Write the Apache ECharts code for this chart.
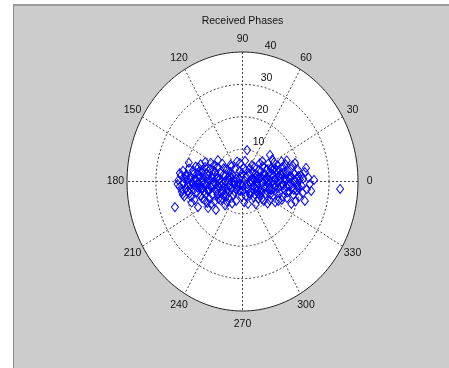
<!DOCTYPE html>
<html><head><meta charset="utf-8">
<script src="https://cdn.jsdelivr.net/npm/echarts@6/dist/echarts.min.js"></script>
<style>
html,body{margin:0;padding:0;background:#fff;}
#wrap{position:relative;width:449px;height:368px;overflow:hidden;background:#fff;}
#frame{position:absolute;left:13px;top:4px;right:0;bottom:0;background:#cccccc;border-left:1px solid #8c8c8c;border-top:2px solid #9c9c9c;}
#c{position:absolute;left:0;top:0;width:449px;height:368px;}
</style>
</head><body><div id="wrap"><div id="frame"></div><div id="c"></div></div>
<script>
const chartTitle = 'Received Phases';
const angleTicks = [0, 30, 60, 90, 120, 150, 180, 210, 240, 270, 300, 330];
const ringTicks = [10, 20, 30, 40];
// received symbols: in-phase (real) and quadrature (imag) components
const inPhase = [
-23.4,-22.2,-21.8,-21.3,-21,-20.6,-20.4,-20.2,-21.7,-20.9,-22.5,-20.1,
-18.6,-19.6,-18.9,-19.6,-18.3,-16.6,-19.2,-18,-17.5,-17.2,-16.8,-17.8,-16.3,-18.5,-17,-16.5,-19,-17.6,-16.2,-18.2,
-15.4,-13,-14.8,-15.5,-14.2,-13.5,-15,-12.8,-14,-12.4,-13.6,-15.8,-12.9,-14.5,-12.2,-13.2,-15.2,-14.6,-12.6,-13.9,-12.1,-15.9,-14.3,-13.1,-12.5,
-9.6,-8.5,-11.9,-9.2,-11.5,-10.8,-10.2,-9.3,-8.6,-11.2,-10.5,-9.1,-8.3,-11.7,-10,-8.8,-11,-9.7,-10.6,-8.2,-11.4,-9.4,-10.3,-8.7,-11.8,-9.9,-8.1,-10.9,
-5.4,-7.5,-6.8,-6.1,-5.2,-7.2,-4.6,-6.5,-5.7,-4.3,-7.8,-6.3,-5,-4.8,-7,-6,-4.4,-7.6,-5.5,-6.9,-4.1,-5.9,-7.3,-4.7,
-0.9,-3.5,-2.8,-2,-1.2,-3.2,-0.5,-2.5,-1.7,-3.8,-0.3,-2.2,-3.9,-1,-1.5,-3,-0.7,-2.6,-3.6,-0.2,
1.6,0.8,1.5,2.2,3,0.4,3.6,2.7,1.1,3.3,0.6,2,3.8,1.3,2.5,0.2,3.5,1.9,2.9,0.9,3.9,1.7,
6.1,4.4,5.2,6.5,7.3,4.8,5.7,7,4.2,6.8,5.5,7.6,4.6,6.2,7.9,5.9,4.1,6.9,5.1,7.4,6.4,4.9,7.7,5.4,6.7,4.3,
9.5,8.3,9,10.2,11,8.6,9.8,11.5,10.6,8.9,11.8,9.4,10.9,8.2,10.4,11.3,9.2,8.7,10,11.6,8.4,9.6,10.7,11.9,9.1,10.3,8.8,11.2,
15.4,12.5,13.3,14.2,15,12.9,13.8,15.7,14.6,12.2,13.5,15.2,12.7,14,15.9,13.1,14.8,12.4,13.9,15.5,12.1,14.4,13.6,15.3,
18.2,16.4,17.1,18,19,16.8,17.6,19.4,18.6,16.2,17.9,19.7,16.6,18.3,17.3,19.2,16.9,18.8,
21.6,21.6,24.8,20.4,21,22.3,20.8,23.2,22,20.3,23.8,22.8,
33.8,
-19.5,-18.1,-16.9,-15.6,-14.1,-13.3,-12,-11.1,-10.1,-9,-7.9,-6.6,-5.6,-4.5,-3.3,-2.1,-1.1,0.1,1.2,2.4,
3.4,4.5,5.6,6.6,7.5,8.5,9.3,10.5,11.4,12.3,13.2,14.1,15.1,16.1,17,17.8,18.9,19.9,
-17.3,-14.9,-11.6,-8.9,-6.2,-3.7,-0.6,2.6,5.3,8,10.8,13.7,16.7,-20.7,-13.8,-7.1,-1.9,4.7,11.1,19.5,-15.3,6
];
const quadrature = [
-7.9,0.4,-1.6,1.8,-3.2,3.3,-0.6,-4.6,2.6,-2.4,-0.8,0.9,
5.8,2,-1.1,-2,-3.6,-5.7,0.5,1.2,-0.3,3.4,-2.5,-4.8,0.8,4,2.2,-1.3,-3,-6.5,4.6,-0.9,
-7.9,4.5,1.4,-0.5,-2.2,0.2,3.1,-3.8,-5.2,2.3,-1.1,-3.4,6,5.3,-6.6,-0.6,2.1,-4.3,1.1,3.6,-2.7,0.3,-0.1,-5.8,4,
3,6.6,-8.2,-8.8,0.4,-1.9,2.2,-0.9,1.3,3.9,-4.1,-3,-5.4,-2.9,0,4.4,5.8,-6.2,1.1,-1.7,-5.3,2.9,-0.8,-3.9,1.9,5,0.6,-7,
-6.3,2.6,-0.7,1.8,-2.4,-3.5,0.4,4.1,-4.6,3,0.9,-1.8,1.2,-5,5.5,-7.4,-1.2,-5.8,3.6,-2.6,5.2,0.1,-1.4,-3.3,
5.7,2,-1,0.8,-2.8,-4.2,1.6,3.9,-0.4,-2.2,-4.6,-6,4.6,3.2,-1.6,0.2,-0.9,-3.3,-6.8,2.5,
9.7,0.3,-1.8,2.6,-3.2,4.1,0.9,-0.5,-4.5,5.1,-6.4,-2.5,-1.5,1.5,4,-2.9,3,-6.9,0.3,6.4,-4.8,-0.8,
-4.2,2.2,-0.6,1.4,-1.8,-2.9,3.6,4.7,0.5,-0.2,-5.4,2.5,-7,-2.6,-3.9,0.9,4.4,6.3,1.8,-6,3.2,-1.5,0.3,-3.7,-5.3,-4,
8.2,1.2,-0.8,2.3,-2,-3.1,4.1,0.6,-4.3,5.5,3.5,-5.8,5.9,-1.8,0.1,-6.4,2.8,-6.8,-2.6,-1.1,3.7,-4,1.5,-3.6,0.4,6.8,-0.2,2.9,
-5.1,1.6,-1.4,2.8,0.2,-3.5,4.5,3.3,-2.6,-0.3,6.2,-1.5,3.6,-4.6,1.2,0.8,5.4,-6,-0.7,-3.4,5,0.9,-5.7,6.5,
5.7,0.8,-1.9,2.4,-0.6,3.9,-4.1,1.7,-2.8,-3.2,0.1,-4.6,-0.5,-6.2,5,3.6,-6.9,0.9,
2.9,-6,0.5,-1.2,0.9,-2.4,-3.6,-0.9,4.2,1.9,-2.9,1.2,
-2.3,
1.5,-2.2,0.5,-1.9,2.7,-3,0.8,-1.5,3.4,-2.2,-0.4,2.1,-3.1,1.7,-0.6,-2.4,0.9,-1.3,3.5,-3.6,
-0.1,1.1,-2.2,-3.3,1.9,-1.4,-2.3,3.7,0.7,-2.1,2.2,-1.2,2.4,-1.2,1.4,-2.6,-1.7,0.6,
-0.7,-1.8,-2.5,0.9,-4,1.3,-2.9,-4.2,1,0.7,-1,2,1.6,-4,-2,-5.2,6.2,-2.2,4,-1.8,4.4,5.6
];

const RMAX = 40;
const FONT = '10.5px "Liberation Sans", Arial, sans-serif';
const points = inPhase.map((x, i) => [x, quadrature[i]]);

function ringPts(api, r) {
  const pts = [];
  for (let a = 0; a <= 360; a += 2) {
    const t = a * Math.PI / 180;
    pts.push(api.coord([r * Math.cos(t), r * Math.sin(t)]));
  }
  return pts;
}

function renderGrid(params, api) {
  const children = [];
  children.push({ type: 'polygon', shape: { points: ringPts(api, RMAX) }, style: { fill: '#ffffff', stroke: null } });
  ringTicks.slice(0, -1).forEach(r => {
    children.push({ type: 'polyline', shape: { points: ringPts(api, r) },
      style: { fill: null, stroke: '#444444', lineWidth: 1, lineDash: [2, 2] } });
  });
  for (let a = 0; a < 180; a += 30) {
    const t = a * Math.PI / 180;
    const p1 = api.coord([RMAX * Math.cos(t), RMAX * Math.sin(t)]);
    const p2 = api.coord([-RMAX * Math.cos(t), -RMAX * Math.sin(t)]);
    children.push({ type: 'line', shape: { x1: p1[0], y1: p1[1], x2: p2[0], y2: p2[1] },
      style: { stroke: '#444444', lineWidth: 1, lineDash: [2, 2] } });
  }
  children.push({ type: 'polyline', shape: { points: ringPts(api, RMAX) },
    style: { fill: null, stroke: '#222222', lineWidth: 1 } });
  angleTicks.forEach(a => {
    const t = a * Math.PI / 180;
    const p = api.coord([RMAX * 1.1 * Math.cos(t), RMAX * 1.1 * Math.sin(t)]);
    children.push({ type: 'text', x: p[0], y: p[1],
      style: { text: String(a), textAlign: 'center', textVerticalAlign: 'middle', font: FONT, fill: '#111' } });
  });
  const c82 = Math.cos(82 * Math.PI / 180), s82 = Math.sin(82 * Math.PI / 180);
  ringTicks.forEach(r => {
    const rr = r + RMAX / 20 / 4;
    const p = api.coord([rr * c82, rr * s82]);
    children.push({ type: 'text', x: p[0] + 6, y: p[1],
      style: { text: String(r), textAlign: 'left', textVerticalAlign: 'bottom', font: FONT, fill: '#111' } });
  });
  return { type: 'group', children };
}

const chart = echarts.init(document.getElementById('c'), null, { renderer: 'canvas' });
chart.setOption({
  animation: false,
  backgroundColor: 'transparent',
  graphic: [{ type: 'text', x: 242.5, y: 21,
    style: { text: chartTitle, textAlign: 'center', textVerticalAlign: 'middle', font: FONT, fill: '#111' } }],
  grid: { left: 127, top: 52, width: 231, height: 259, containLabel: false },
  xAxis: { type: 'value', min: -RMAX, max: RMAX, show: false },
  yAxis: { type: 'value', min: -RMAX, max: RMAX, show: false },
  series: [
    { type: 'custom', renderItem: renderGrid, data: [[0, 0]], z: 1, silent: true, clip: false },
    { type: 'scatter', data: points, symbol: 'diamond', symbolSize: [7, 9], z: 3,
      itemStyle: { color: 'rgba(0,0,0,0)', borderColor: '#0000ff', borderWidth: 1, opacity: 1 } }
  ]
});
</script></body></html>
